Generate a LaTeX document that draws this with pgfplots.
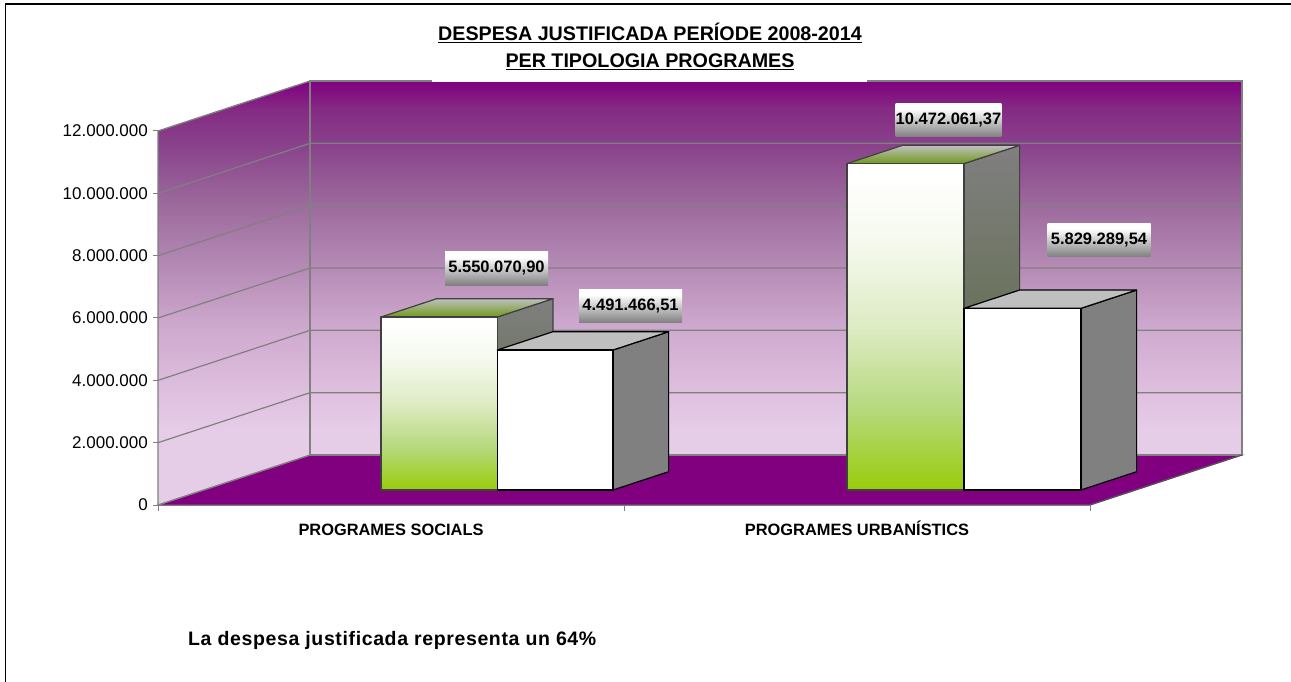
\documentclass[border=0pt]{standalone}
\usepackage{pgfplots}
\pgfplotsset{compat=1.18}
\usepackage{fontspec}
\setmainfont{Liberation Sans}
\definecolor{wallT}{HTML}{800080}
\definecolor{w1}{HTML}{842A84}
\definecolor{w2}{HTML}{88408A}
\definecolor{w3}{HTML}{9C6A9C}
\definecolor{w4}{HTML}{B58BB5}
\definecolor{w5}{HTML}{CFAACF}
\definecolor{w6}{HTML}{DFC0DF}
\definecolor{wallL}{HTML}{E5CCE7}
\definecolor{grn}{HTML}{99CC0A}
\definecolor{g1}{HTML}{B6D97E}
\definecolor{g2}{HTML}{DEEBC4}
\definecolor{g3}{HTML}{F5F9EE}
\definecolor{grnTop}{HTML}{6F9A1A}
\definecolor{sideEnd}{HTML}{536537}
\pgfdeclareverticalshading{backwall}{100bp}{color(0bp)=(wallL);color(28.5bp)=(wallL);color(33.4bp)=(w6);color(41.8bp)=(w5);color(50.1bp)=(w4);color(58.6bp)=(w3);color(66.8bp)=(w2);color(71.3bp)=(w1);color(75bp)=(wallT);color(100bp)=(wallT)}
\pgfdeclareverticalshading{leftwall}{100bp}{color(0bp)=(wallL);color(33.9bp)=(wallL);color(38.2bp)=(w6);color(45.7bp)=(w5);color(53bp)=(w4);color(60.5bp)=(w3);color(67.8bp)=(w2);color(71.7bp)=(w1);color(75bp)=(wallT);color(100bp)=(wallT)}
\pgfdeclareverticalshading{lab}{100bp}{color(0bp)=(gray);color(25bp)=(gray);color(67bp)=(white);color(100bp)=(white)}
\pgfdeclareverticalshading{grnfront}{100bp}{color(0bp)=(grn);color(25bp)=(grn);color(37.5bp)=(g1);color(50bp)=(g2);color(63bp)=(g3);color(73bp)=(white);color(100bp)=(white)}
% bar: x0, x1, value, outline, front style, top style, side style
\newcommand\cube[7]{%
 \addplot3[draw=#4,line width=1.2pt,#7,mark=none,forget plot,line join=round] coordinates {(#2,0.3,0) (#2,0.666,0) (#2,0.666,#3) (#2,0.3,#3)} --cycle;
 \addplot3[draw=#4,line width=1.2pt,#6,mark=none,forget plot,line join=round] coordinates {(#1,0.3,#3) (#2,0.3,#3) (#2,0.666,#3) (#1,0.666,#3)} --cycle;
 \addplot3[draw=#4,line width=1.2pt,#5,mark=none,forget plot,line join=round] coordinates {(#1,0.3,0) (#2,0.3,0) (#2,0.3,#3) (#1,0.3,#3)} --cycle;
}
\newcommand\dlab[3]{\node[shading=lab,minimum width=103pt,minimum height=33.5pt,inner sep=0pt,font=\fontsize{16.5}{18}\selectfont\bfseries] at (axis cs:#1,0,#2) {#3};}
\newcommand\zgrid[1]{\addplot3[draw=gray,line width=1.2pt,mark=none,forget plot] coordinates {(0,0,#1) (0,1,#1) (932,1,#1)};}
\newcommand\ztickmark[1]{\addplot3[draw=gray,line width=1pt,mark=none,forget plot] coordinates {(-5,0,#1) (0,0,#1)};}
\newcommand\xtickmark[1]{\draw[gray,line width=1pt] (axis cs:#1,0,0) -- ++(0pt,-6pt);}
\begin{document}
\begin{tikzpicture}[x=1pt,y=1pt]
\useasboundingbox (0,0) rectangle (1291,681);
\fill[white] (0,0) rectangle (1291,681);
\draw[black,line width=1.2pt] (5.5,-2) -- (5.5,677) -- (1293,677);
\begin{axis}[
  at={(158pt,176pt)}, anchor=origin,
  x={(1pt,0pt)}, y={(152pt,50pt)}, z={(0pt,31.1667pt)},
  xmin=0, xmax=932, ymin=0, ymax=1, zmin=0, zmax=12000000,
  z coord trafo/.code={\pgfkeys{/pgf/fpu=true,/pgf/fpu/output format=fixed}\pgfmathparse{#1/1000000}\pgfkeys{/pgf/fpu/output format=float,/pgf/fpu=false}},
  clip=false,
  axis lines=left,
  axis line style={-,draw=gray,line width=1pt},
  xtick={233,699},
  xticklabels={PROGRAMES SOCIALS,PROGRAMES URBANÍSTICS},
  ytick=\empty,
  ztick={0,2000000,4000000,6000000,8000000,10000000,12000000},
  zticklabels={0,2.000.000,4.000.000,6.000.000,8.000.000,10.000.000,12.000.000},
  scaled z ticks=false,
  major tick length=0pt,
  tick style={draw=none},
  xticklabel style={font=\fontsize{16.4}{18}\selectfont\bfseries,anchor=north,inner sep=0pt,text height=11.8pt,text depth=0pt,yshift=-18pt},
  zticklabel style={font=\fontsize{17}{18}\selectfont,anchor=east,inner sep=0pt,xshift=-10pt},
]
% floor
\addplot3[fill=wallT,draw=gray,line width=1pt,mark=none,forget plot] coordinates {(0,0,0) (932,0,0) (932,1,0) (0,1,0)} --cycle;
% left wall
\addplot3[shading=leftwall,draw=gray,line width=1.3pt,mark=none,forget plot] coordinates {(0,0,0) (0,1,0) (0,1,12000000) (0,0,12000000)} --cycle;
% back wall
\addplot3[shading=backwall,draw=gray,line width=1.3pt,mark=none,forget plot] coordinates {(0,1,0) (932,1,0) (932,1,12000000) (0,1,12000000)} --cycle;
% floor right edge
\addplot3[draw=black!70,line width=0.8pt,mark=none,forget plot] coordinates {(932,0,0) (932,1,0)};
% gridlines
\zgrid{2000000}\zgrid{4000000}\zgrid{6000000}\zgrid{8000000}\zgrid{10000000}
% tick marks
\ztickmark{0}\ztickmark{2000000}\ztickmark{4000000}\ztickmark{6000000}\ztickmark{8000000}\ztickmark{10000000}\ztickmark{12000000}
\xtickmark{0}\xtickmark{466}\xtickmark{932}
% bars
\cube{177.4}{293.7}{5550070.90}{black!75}{shading=grnfront}{top color=gray!50!white,bottom color=grnTop}{top color=gray,bottom color=sideEnd}
\cube{293.7}{409.4}{4491466.51}{black}{fill=white}{fill=gray!50!white}{fill=gray}
\cube{643.4}{760.4}{10472061.37}{black!75}{shading=grnfront}{top color=gray!50!white,bottom color=grnTop}{top color=gray,bottom color=sideEnd}
\cube{760.4}{877.4}{5829289.54}{black}{fill=white}{fill=gray!50!white}{fill=gray}
% data labels
\dlab{338.5}{7588000}{5.550.070,90}
\dlab{472.5}{6385000}{4.491.466,51}
\dlab{790.5}{12353000}{10.472.061,37}
\dlab{941}{8503000}{5.829.289,54}
\end{axis}
\node[fill=white,inner sep=0pt,minimum width=435pt,minimum height=62pt,anchor=north] at (649.5,661) {};
\node[font=\fontsize{19.7}{27}\selectfont\bfseries,align=center] at (650,634.5) {\underline{DESPESA JUSTIFICADA PERÍODE 2008-2014}\\\underline{PER TIPOLOGIA PROGRAMES}};
\node[font=\fontsize{19.5}{22}\selectfont\bfseries\addfontfeature{LetterSpace=3.2},anchor=west,inner sep=0pt] at (188,41) {La despesa justificada representa un 64\%};
\end{tikzpicture}
\end{document}
